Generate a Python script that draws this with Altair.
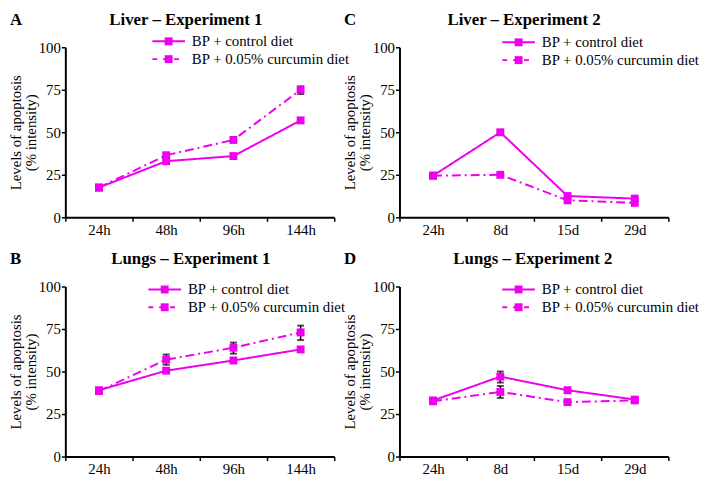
import altair as alt
import pandas as pd

# ---------------- data ----------------
series_names = ["BP + control diet", "BP + 0.05% curcumin diet"]
times_exp1 = ["24h", "48h", "96h", "144h"]
times_exp2 = ["24h", "8d", "15d", "29d"]

liver1_control = [17.5, 33, 36, 57]
liver1_curcumin = [17.5, 36.5, 45.5, 75]
liver2_control = [24.5, 50, 12.5, 11]
liver2_curcumin = [24.5, 25, 10, 8.5]
lungs1_control = [39, 50.5, 56.5, 63]
lungs1_curcumin = [38.5, 57, 64, 73]
lungs2_control = [33, 47, 39, 33.5]
lungs2_curcumin = [32.5, 38, 32, 33]

# error bars: (time, low, high)
liver1_err = [("144h", 72.5, 77)]
liver2_err = []
lungs1_err = [("48h", 54, 60), ("96h", 60.5, 67), ("144h", 68.5, 77)]
lungs2_err = [("8d", 43.5, 50), ("8d", 34.5, 41.5)]

MAG = "#EE00EE"
FONT = "Liberation Serif, Times New Roman, DejaVu Serif, serif"
DASH = [9, 4, 2, 4]
W, H = 272, 172


def panel(letter, title, cats, control, curcumin, errs, lx, ly, tx):
    df = pd.DataFrame({
        "time": cats + cats,
        "value": control + curcumin,
        "series": [series_names[0]] * len(cats) + [series_names[1]] * len(cats),
    })
    x = alt.X("time:N", sort=cats,
              scale=alt.Scale(type="band", domain=cats, paddingInner=0, paddingOuter=0),
              axis=alt.Axis(title=None, labelAngle=0, tickBand="extent", labelFont=FONT,
                            labelFontSize=15, labelColor="black", domainColor="black",
                            domainWidth=2, tickColor="black", tickWidth=1.5, tickSize=4,
                            labelPadding=1))
    y = alt.Y("value:Q", scale=alt.Scale(domain=[0, 100], nice=False),
              axis=alt.Axis(values=[0, 25, 50, 75, 100], grid=False,
                            title=["Levels of apoptosis", "(% intensity)"],
                            titleFont=FONT, titleFontSize=15, titleFontWeight="normal",
                            titleColor="black", titlePadding=0, titleLineHeight=15,
                            labelFont=FONT, labelFontSize=15, labelColor="black",
                            labelPadding=1, domainColor="black", domainWidth=2,
                            tickColor="black", tickWidth=1.5, tickSize=4))
    dash = alt.StrokeDash("series:N",
                          scale=alt.Scale(domain=series_names, range=[[1, 0], DASH]),
                          legend=None)
    base = alt.Chart(df)
    lines = base.mark_line(color=MAG, strokeWidth=2).encode(x=x, y=y, strokeDash=dash, detail="series:N")
    squares = base.mark_square(color=MAG, size=64, opacity=1).encode(x=x, y=y)
    layers = []
    if errs:
        edf = pd.DataFrame(errs, columns=["time", "low", "high"])
        eb = alt.Chart(edf)
        layers.append(eb.mark_rule(color="black", strokeWidth=1.5).encode(
            x=x, y=alt.Y("low:Q"), y2="high:Q"))
        layers.append(eb.mark_tick(color="black", thickness=2, size=7).encode(x=x, y=alt.Y("low:Q")))
        layers.append(eb.mark_tick(color="black", thickness=2, size=7).encode(x=x, y=alt.Y("high:Q")))
    layers += [lines, squares]

    one = pd.DataFrame({"k": [0]})
    # manual legend
    for i, name in enumerate(series_names):
        yy = ly + i * 18
        c = alt.Chart(one)
        layers.append(c.mark_rule(color=MAG, strokeWidth=2, strokeDash=[1, 0] if i == 0 else [5, 6]).encode(
            x=alt.value(lx), x2=alt.value(lx + 33), y=alt.value(yy)))
        layers.append(c.mark_square(color=MAG, size=64, opacity=1).encode(
            x=alt.value(lx + 16.5), y=alt.value(yy)))
        layers.append(c.mark_text(text=name, font=FONT, fontSize=15, color="black",
                                  align="left", baseline="middle").encode(
            x=alt.value(lx + 40), y=alt.value(yy)))
    # panel letter and heading
    layers.append(alt.Chart(one).mark_text(text=letter, font=FONT, fontSize=17, fontWeight="bold",
                                           color="black", align="left", baseline="top").encode(
        x=alt.value(-56), y=alt.value(-36)))
    layers.append(alt.Chart(one).mark_text(text=title, font=FONT, fontSize=17, fontWeight="bold",
                                           color="black", align="center", baseline="top").encode(
        x=alt.value(tx), y=alt.value(-36)))

    return alt.layer(*layers).properties(width=W, height=H)


pA = panel("A", "Liver \u2013 Experiment 1", times_exp1, liver1_control, liver1_curcumin,
           liver1_err, 88, -6, 122)
pC = panel("C", "Liver \u2013 Experiment 2", times_exp2, liver2_control, liver2_curcumin,
           liver2_err, 104, -5, 126)
pB = panel("B", "Lungs \u2013 Experiment 1", times_exp1, lungs1_control, lungs1_curcumin,
           lungs1_err, 84, 3, 127)
pD = panel("D", "Lungs \u2013 Experiment 2", times_exp2, lungs2_control, lungs2_curcumin,
           lungs2_err, 104, 3, 135)

chart = alt.concat(pA, pC, pB, pD, columns=2,
                   spacing={"row": 70, "column": 66}, bounds="flush").properties(
    padding=0, background="white"
).configure_view(stroke=None)

chart.save("out.html", embed_options={"renderer": "svg", "actions": False})
